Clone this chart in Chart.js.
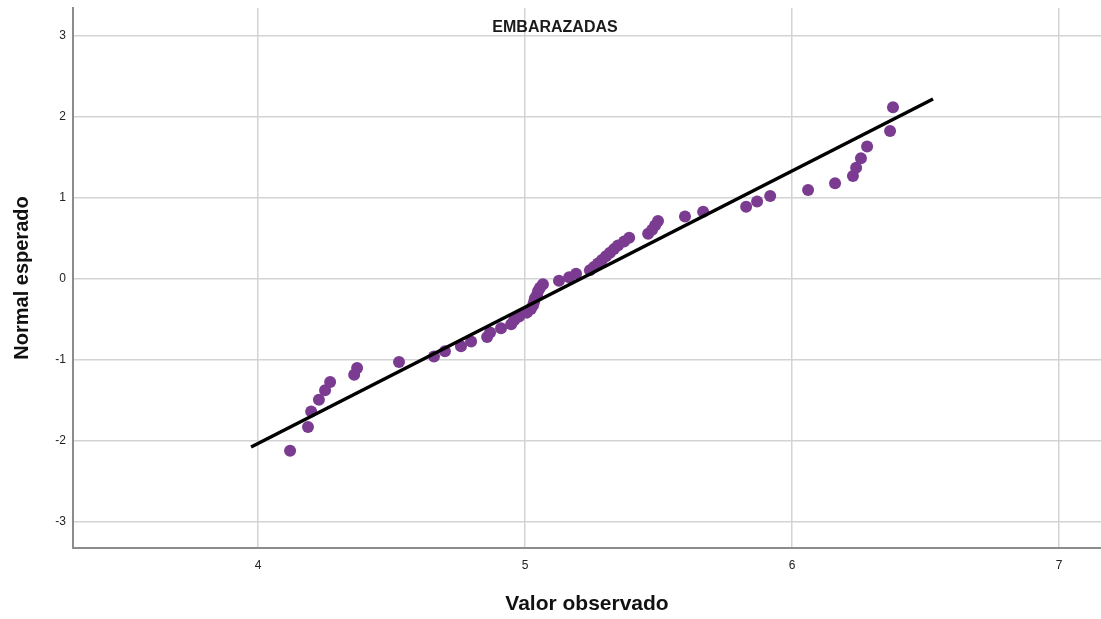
<!DOCTYPE html>
<html>
<head>
<meta charset="utf-8">
<script src="https://cdn.jsdelivr.net/npm/chart.js@4/dist/chart.umd.min.js"></script>
<style>
  html, body { margin: 0; padding: 0; background: #ffffff; overflow: hidden; }
  canvas { display: block; }
</style>
</head>
<body>
<canvas id="qq" width="1101" height="619"></canvas>
<script>
// Observed values (sorted) and their expected normal scores
const observed = [
  4.120, 4.187, 4.199, 4.228, 4.251, 4.270, 4.360, 4.371, 4.528, 4.659,
  4.700, 4.760, 4.798, 4.858, 4.869, 4.910, 4.948, 4.959, 4.978, 5.007,
  5.022, 5.030, 5.034, 5.037, 5.045, 5.049, 5.056, 5.067, 5.127, 5.165,
  5.191, 5.243, 5.258, 5.273, 5.288, 5.303, 5.318, 5.333, 5.348, 5.371,
  5.390, 5.461, 5.476, 5.487, 5.498, 5.599, 5.667, 5.828, 5.869, 5.918,
  6.060, 6.161, 6.228, 6.240, 6.258, 6.281, 6.367, 6.378
];
const expectedNormal = [
  -2.121, -1.826, -1.637, -1.492, -1.373, -1.272, -1.182, -1.100, -1.025, -0.956,
  -0.891, -0.830, -0.771, -0.715, -0.661, -0.609, -0.559, -0.510, -0.462, -0.415,
  -0.369, -0.324, -0.280, -0.236, -0.193, -0.149, -0.107, -0.064, -0.021, 0.021,
  0.064, 0.107, 0.149, 0.193, 0.236, 0.280, 0.324, 0.369, 0.415, 0.462,
  0.510, 0.559, 0.609, 0.661, 0.715, 0.771, 0.830, 0.891, 0.956, 1.025,
  1.100, 1.182, 1.272, 1.373, 1.492, 1.637, 1.826, 2.121
];

// Reference line endpoints (observed, expected)
const refLineX = [3.974, 6.528];
const refLineY = [-2.074, 2.222];

// Axis ticks
const xTicks = [4, 5, 6, 7];
const yTicks = [-3, -2, -1, 0, 1, 2, 3];

const chartTitle = 'EMBARAZADAS';
const xTitle = 'Valor observado';
const yTitle = 'Normal esperado';

const points = observed.map((v, i) => ({ x: v, y: expectedNormal[i] }));
const refLine = refLineX.map((v, i) => ({ x: v, y: refLineY[i] }));

const titleInside = {
  id: 'titleInside',
  afterDatasetsDraw(chart) {
    const { ctx, chartArea } = chart;
    ctx.save();
    ctx.font = 'bold 16px "Liberation Sans", Arial, sans-serif';
    ctx.fillStyle = '#1a1a1a';
    ctx.textAlign = 'center';
    ctx.textBaseline = 'middle';
    ctx.fillText(chartTitle, chartArea.left + 482, chartArea.top + 20);
    ctx.restore();
  }
};

new Chart(document.getElementById('qq'), {
  type: 'scatter',
  data: {
    datasets: [
      {
        type: 'line',
        data: refLine,
        borderColor: '#000000',
        borderWidth: 3.5,
        pointRadius: 0,
        fill: false,
        order: 0
      },
      {
        data: points,
        backgroundColor: '#7a3b91',
        borderWidth: 0,
        pointRadius: 6,
        pointHoverRadius: 6,
        order: 1
      }
    ]
  },
  options: {
    responsive: false,
    animation: false,
    layout: { autoPadding: false, padding: { top: 8, right: 0, bottom: 0, left: 0 } },
    plugins: {
      legend: { display: false },
      tooltip: { enabled: false }
    },
    scales: {
      x: {
        type: 'linear',
        min: 3.307,
        max: 7.157,
        afterBuildTicks(scale) { scale.ticks = xTicks.map(v => ({ value: v })); },
        afterFit(scale) {
          scale.height = 71;
          scale.paddingLeft = 0;
          scale.paddingRight = 0;
        },
        grid: { color: '#d3d3d3', lineWidth: 1.5, drawTicks: false },
        border: { color: '#8c8c8c', width: 2 },
        ticks: {
          padding: 10,
          color: '#222222',
          font: { family: '"Liberation Sans", Arial, sans-serif', size: 12 }
        },
        title: {
          display: true,
          text: xTitle,
          color: '#111111',
          padding: { top: 0, bottom: 2 },
          font: { family: '"Liberation Sans", Arial, sans-serif', size: 21, weight: 'bold' }
        }
      },
      y: {
        type: 'linear',
        min: -3.321,
        max: 3.346,
        afterBuildTicks(scale) { scale.ticks = yTicks.map(v => ({ value: v })); },
        afterFit(scale) {
          scale.width = 73;
          scale.paddingTop = 0;
          scale.paddingBottom = 0;
        },
        grid: { color: '#d3d3d3', lineWidth: 1.5, drawTicks: false },
        border: { color: '#8c8c8c', width: 2 },
        ticks: {
          padding: 7,
          color: '#222222',
          font: { family: '"Liberation Sans", Arial, sans-serif', size: 12 }
        },
        title: {
          display: true,
          text: yTitle,
          color: '#111111',
          padding: { top: 10, bottom: 0 },
          font: { family: '"Liberation Sans", Arial, sans-serif', size: 20, weight: 'bold' }
        }
      }
    }
  },
  plugins: [titleInside]
});
</script>
</body>
</html>
